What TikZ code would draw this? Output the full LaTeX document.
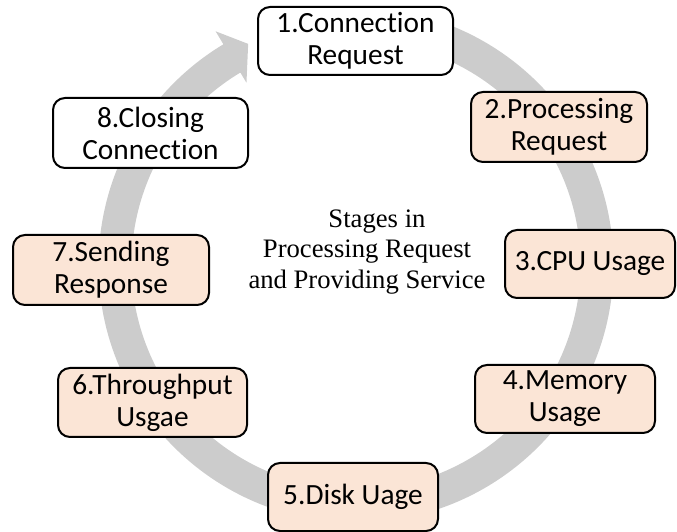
\documentclass[tikz,border=0pt]{standalone}
\usepackage{fontspec}
\setmainfont{Liberation Serif}
\newfontfamily\carlitofont[RawFeature={-liga;-dlig;-clig}]{Carlito}
\definecolor{ringgray}{RGB}{204,204,204}
\definecolor{peach}{RGB}{251,229,214}
\newcommand{\Conn}{Connec\kern0pt tion}
\tikzset{
  stagebox/.style={draw=black, line width=1.5pt, rounded corners=9pt, fill=white,
    align=center, inner sep=0pt, font=\carlitofont\fontsize{22}{24}\selectfont},
  hot/.style={fill=peach},
  centertext/.style={align=center, font=\fontsize{20}{23}\selectfont}
}
\begin{document}
\begin{tikzpicture}[x=0.75pt, y=0.75pt]
\useasboundingbox (0,0) rectangle (677,531);
% ring with arrowhead
\begin{scope}[shift={(356,266)}]
\fill[ringgray] (90:193.1pt) arc[start angle=90, end angle=-239, radius=193.1pt]
  -- (-239:204.5pt) -- (-244:184.5pt) -- (-239:159.5pt) -- (-239:168.4pt)
  arc[start angle=-239, end angle=90, radius=168.4pt] -- cycle;
\end{scope}
\node[stagebox, minimum width=146.25pt, minimum height=51pt] (n1) at (355.5,490) {1.\Conn\\Request};
\node[stagebox, hot, minimum width=132pt, minimum height=52.5pt] (n2) at (559,404) {2.Processing\\Request};
\node[stagebox, hot, minimum width=127.5pt, minimum height=51pt] (n3) at (590,267) {3.CPU Usage};
\node[stagebox, hot, minimum width=135pt, minimum height=51pt] (n4) at (565,132) {4.Memory\\Usage};
\node[stagebox, hot, minimum width=127.5pt, minimum height=51pt] (n5) at (353,34) {5.Disk Uage};
\node[stagebox, hot, minimum width=141.75pt, minimum height=51.75pt] (n6) at (152.5,128.5) {6.Throughput\\Usgae};
\node[stagebox, hot, minimum width=147pt, minimum height=52.5pt] (n7) at (111,261) {7.Sending\\Response};
\node[stagebox, minimum width=146.25pt, minimum height=52.5pt] (n8) at (150.5,398) {8.Closing\\\Conn};
\node[centertext] (ctr) at (367,279) {\hspace*{15pt}Stages in\\Processing Request\hspace*{10pt}\\and Providing Service};
\end{tikzpicture}
\end{document}
